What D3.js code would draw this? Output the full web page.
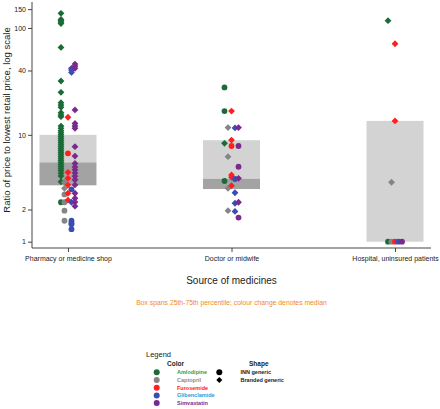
<!DOCTYPE html>
<html><head><meta charset="utf-8">
<script src="https://cdn.jsdelivr.net/npm/d3@7"></script>
<style>body{margin:0;background:#fff}svg{display:block;font-family:"Liberation Sans",Arial,sans-serif}</style>
</head><body><svg id="c" width="440" height="409"></svg>
<script>
const outlets = ["Pharmacy or medicine shop", "Doctor or midwife", "Hospital, uninsured patients"];
const drugs = ["Amlodipine", "Captopril", "Furosemide", "Glibenclamide", "Simvastatin"];
const drugColors = ["#1b6b36", "#858585", "#ff1f1f", "#3a4db0", "#7a2a8c"];
const legendTextColors = ["#3d9a3d", "#8a8a8a", "#ff2020", "#2b9ad6", "#7a2a8c"];
const drugOffset = [-7, -3.5, 0, 3.5, 7];
const boxQ1 = [3.37, 3.11, 1.0];
const boxMedian = [5.53, 3.88, 1.0];
const boxQ3 = [10.0, 8.9, 13.5];
const yTicks = [1, 2, 10, 40, 100, 150];
// shape: "c" = INN generic (circle), "d" = branded generic (diamond)
const pharmacyAmlodipine = [137,120,117,113.6,110,65.8,31.9,25,20,19,18.1,16.1,15.3,14.8,12.09,11.5,10.93,10.47,10.03,9.61,9.2,8.81,8.44,8.08,7.74,7.42,7.1,6.8,6.52,6.24,5.98,5.73,5.49,5.25,5.03,4.82,4.62,4.36,4.12,3.64];
const pharmacyAmlodipineShape = "dddddddddddddddddddddddddddddddddddddddd";
const pharmacyAmlodipineCircle = [2.34];
const pharmacyCaptopril = [3.6, 3.16, 2.77, 2.34, 1.95, 1.57];
const pharmacyCaptoprilShape = "ddcccc";
const pharmacyFurosemide = [14.6, 6.71, 4.46, 3.92, 3.39, 2.84, 2.45];
const pharmacyFurosemideShape = "dcddddd";
const pharmacyGlibenclamide = [41.9, 40.4, 38.4, 3.09, 2.34, 1.57, 1.5, 1.46, 1.31];
const pharmacyGlibenclamideShape = "dddcdcccc";
const pharmacySimvastatin = [45.9, 44, 41.9, 17.1, 12.8, 12.1, 11.5, 7.74, 6.33, 5.4, 5.0, 4.7, 4.4, 4.1, 3.8, 3.4, 2.84, 2.55, 2.35, 2.15];
const pharmacySimvastatinShape = "dddddddddddddddddddd";
const doctorAmlodipine = [27.8, 16.7, 8.32, 3.7];
const doctorAmlodipineShape = "ccdc";
const doctorCaptopril = [11.7, 6.24, 3.16, 1.95];
const doctorCaptoprilShape = "dddd";
const doctorFurosemide = [16.7, 8.94, 7.86, 4.21, 4.0, 3.34];
const doctorFurosemideShape = "ddcddd";
const doctorGlibenclamide = [11.6, 3.86, 2.87, 2.29, 1.92];
const doctorGlibenclamideShape = "dcddd";
const doctorSimvastatin = [11.7, 7.86, 5.03, 3.92, 2.34, 1.68];
const doctorSimvastatinShape = "dccddc";
const hospitalAmlodipine = [117, 1];
const hospitalAmlodipineShape = "dc";
const hospitalCaptopril = [3.6, 1];
const hospitalCaptoprilShape = "dc";
const hospitalFurosemide = [71.2, 13.5, 1];
const hospitalFurosemideShape = "ddc";
const hospitalGlibenclamide = [1];
const hospitalGlibenclamideShape = "c";
const hospitalSimvastatin = [1];
const hospitalSimvastatinShape = "c";

const groups = [
  [0,0,pharmacyAmlodipine,pharmacyAmlodipineShape],[0,0,pharmacyAmlodipineCircle,"c"],
  [0,1,pharmacyCaptopril,pharmacyCaptoprilShape],[0,2,pharmacyFurosemide,pharmacyFurosemideShape],
  [0,3,pharmacyGlibenclamide,pharmacyGlibenclamideShape],[0,4,pharmacySimvastatin,pharmacySimvastatinShape],
  [1,0,doctorAmlodipine,doctorAmlodipineShape],[1,1,doctorCaptopril,doctorCaptoprilShape],
  [1,2,doctorFurosemide,doctorFurosemideShape],[1,3,doctorGlibenclamide,doctorGlibenclamideShape],
  [1,4,doctorSimvastatin,doctorSimvastatinShape],
  [2,0,hospitalAmlodipine,hospitalAmlodipineShape],[2,1,hospitalCaptopril,hospitalCaptoprilShape],
  [2,2,hospitalFurosemide,hospitalFurosemideShape],[2,3,hospitalGlibenclamide,hospitalGlibenclamideShape],
  [2,4,hospitalSimvastatin,hospitalSimvastatinShape]
];
const points = [];
groups.forEach(([o,d,vals,sh]) => vals.forEach((v,i) => points.push({o, d, v, s: sh[i]})));

const svg = d3.select("#c");
const x = d3.scalePoint().domain(outlets).range([32, 431]).padding(0.22);
const y = d3.scaleLog().domain([0.873, 175]).range([248, 2]);
const boxW = 57;

// boxes
const bg = svg.append("g");
outlets.forEach((o,i) => {
  bg.append("rect").attr("x", x(o)-boxW/2).attr("width", boxW)
    .attr("y", y(boxQ3[i])).attr("height", y(boxMedian[i]) - y(boxQ3[i])).attr("fill", "#d3d3d3");
  bg.append("rect").attr("x", x(o)-boxW/2).attr("width", boxW)
    .attr("y", y(boxMedian[i])).attr("height", y(boxQ1[i]) - y(boxMedian[i])).attr("fill", "#a3a3a3");
});

// axes
const yAxis = d3.axisLeft(y).tickValues(yTicks).tickFormat(d3.format("d")).tickSize(4).tickPadding(2);
const ya = svg.append("g").attr("transform", "translate(32,0)").call(yAxis);
ya.select(".domain").attr("d", "M0,2V248").attr("stroke", "#444");
ya.selectAll("text").attr("font-size", 7).attr("fill", "#222").attr("font-family", "Liberation Sans, Arial, sans-serif");
ya.selectAll("line").attr("stroke", "#444");
const xAxis = d3.axisBottom(x).tickSize(4).tickPadding(4);
const xa = svg.append("g").attr("transform", "translate(0,248)").call(xAxis);
xa.select(".domain").attr("d", "M32,0H431").attr("stroke", "#444");
xa.selectAll("text").attr("font-size", 7).attr("fill", "#222").attr("font-family", "Liberation Sans, Arial, sans-serif");
xa.selectAll("line").attr("stroke", "#444");

// points
const diamond = "M0,-3.4L3.4,0L0,3.4L-3.4,0Z";
const pg = svg.append("g");
points.forEach(p => {
  const px = x(outlets[p.o]) + drugOffset[p.d], py = y(p.v);
  if (p.s === "c") pg.append("circle").attr("cx", px).attr("cy", py).attr("r", 2.9).attr("fill", drugColors[p.d]);
  else pg.append("path").attr("d", diamond).attr("transform", `translate(${px},${py})`).attr("fill", drugColors[p.d]);
});

// titles
svg.append("text").attr("transform", "translate(10,120) rotate(-90)").attr("text-anchor", "middle")
  .attr("font-size", 9.5).attr("fill", "#222").text("Ratio of price to lowest retail price, log scale");
svg.append("text").attr("x", 231.5).attr("y", 284).attr("text-anchor", "middle")
  .attr("font-size", 10).attr("fill", "#222").text("Source of medicines");
svg.append("text").attr("x", 231.5).attr("y", 305).attr("text-anchor", "middle")
  .attr("font-size", 6.8).attr("fill", "#f08a24").text("Box spans 25th-75th percentile; colour change denotes median");

// legend
const lg = svg.append("g");
lg.append("text").attr("x", 146).attr("y", 357).attr("font-size", 7.5).attr("fill", "#222").text("Legend");
lg.append("text").attr("x", 167).attr("y", 366).attr("font-size", 6.5).attr("font-weight", "bold").attr("fill", "#222").text("Color");
lg.append("text").attr("x", 249).attr("y", 366).attr("font-size", 6.5).attr("font-weight", "bold").attr("fill", "#222").text("Shape");
drugs.forEach((d,i) => {
  const ly = 372.3 + i*7.7;
  lg.append("circle").attr("cx", 156.7).attr("cy", ly).attr("r", 3).attr("fill", drugColors[i]);
  lg.append("text").attr("x", 177).attr("y", ly+2).attr("font-size", 5.5).attr("font-weight", "bold").attr("fill", legendTextColors[i]).text(d);
});
const shapeLabels = ["INN generic", "Branded generic"];
shapeLabels.forEach((s,i) => {
  const ly = 372.3 + i*7.7;
  if (i === 0) lg.append("circle").attr("cx", 219.3).attr("cy", ly).attr("r", 3).attr("fill", "#000");
  else lg.append("path").attr("d", "M0,-3L3,0L0,3L-3,0Z").attr("transform", `translate(219.3,${ly})`).attr("fill", "#000");
  lg.append("text").attr("x", 240.5).attr("y", ly+2).attr("font-size", 5.5).attr("font-weight", "bold").attr("fill", "#222").text(s);
});
</script></body></html>
